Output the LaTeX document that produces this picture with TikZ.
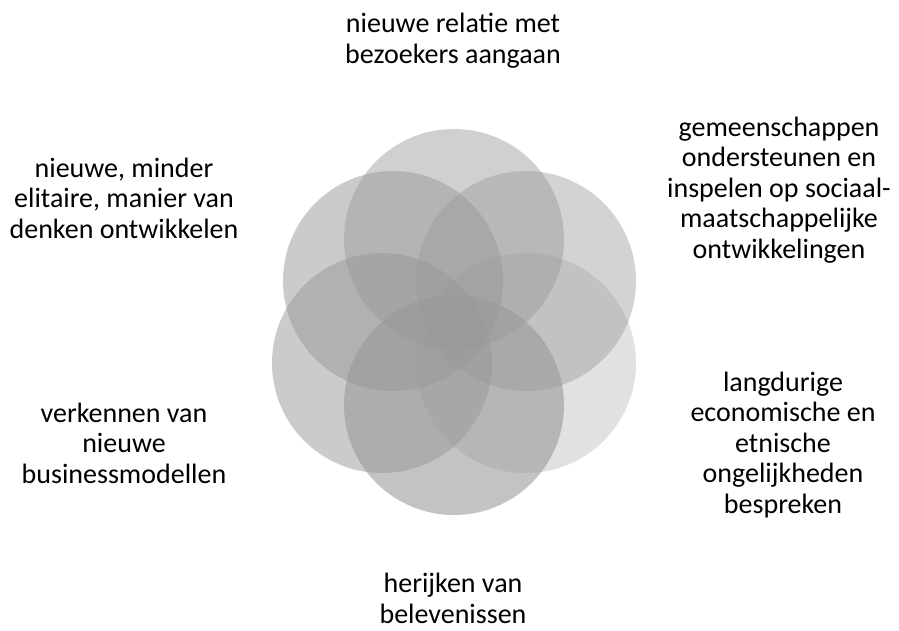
\documentclass[tikz,border=0pt]{standalone}
\usepackage{fontspec}
\setmainfont{Carlito}
\begin{document}
\begin{tikzpicture}[x=1pt,y=-1pt,
  petal/.style={fill=black!40,draw=none},
  lbl/.style={align=center,inner sep=0pt,anchor=base,font=\fontsize{28}{30.5}\selectfont,text=black}]
\useasboundingbox (0,0) rectangle (899,630);
\fill[white] (0,0) rectangle (899,630);
% circles
\fill[petal,fill opacity=0.46] (454,239) circle (110);
\fill[petal,fill opacity=0.43] (526,281) circle (110);
\fill[petal,fill opacity=0.285] (526,363) circle (110);
\fill[petal,fill opacity=0.59] (454,405) circle (110);
\fill[petal,fill opacity=0.51] (382,363) circle (110);
\fill[petal,fill opacity=0.50] (393,281) circle (110);
% labels (anchored at baseline of last line)
\node[lbl] (top) at (453,63) {nieuwe relatie met\\bezoekers aangaan};
\node[lbl] (ur) at (779,258) {gemeenschappen\\ondersteunen en\\inspelen op sociaal-\\maatschappelijke\\ontwikkelingen};
\node[lbl] (lr) at (783,513) {langdurige\\economische en\\etnische\\ongelijkheden\\bespreken};
\node[lbl] (bot) at (453,623) {herijken van\\belevenissen};
\node[lbl] (ll) at (124,483) {verkennen van\\nieuwe\\businessmodellen};
\node[lbl] (ul) at (124,238) {nieuwe, minder\\elitaire, manier van\\denken ontwikkelen};
\end{tikzpicture}
\end{document}
